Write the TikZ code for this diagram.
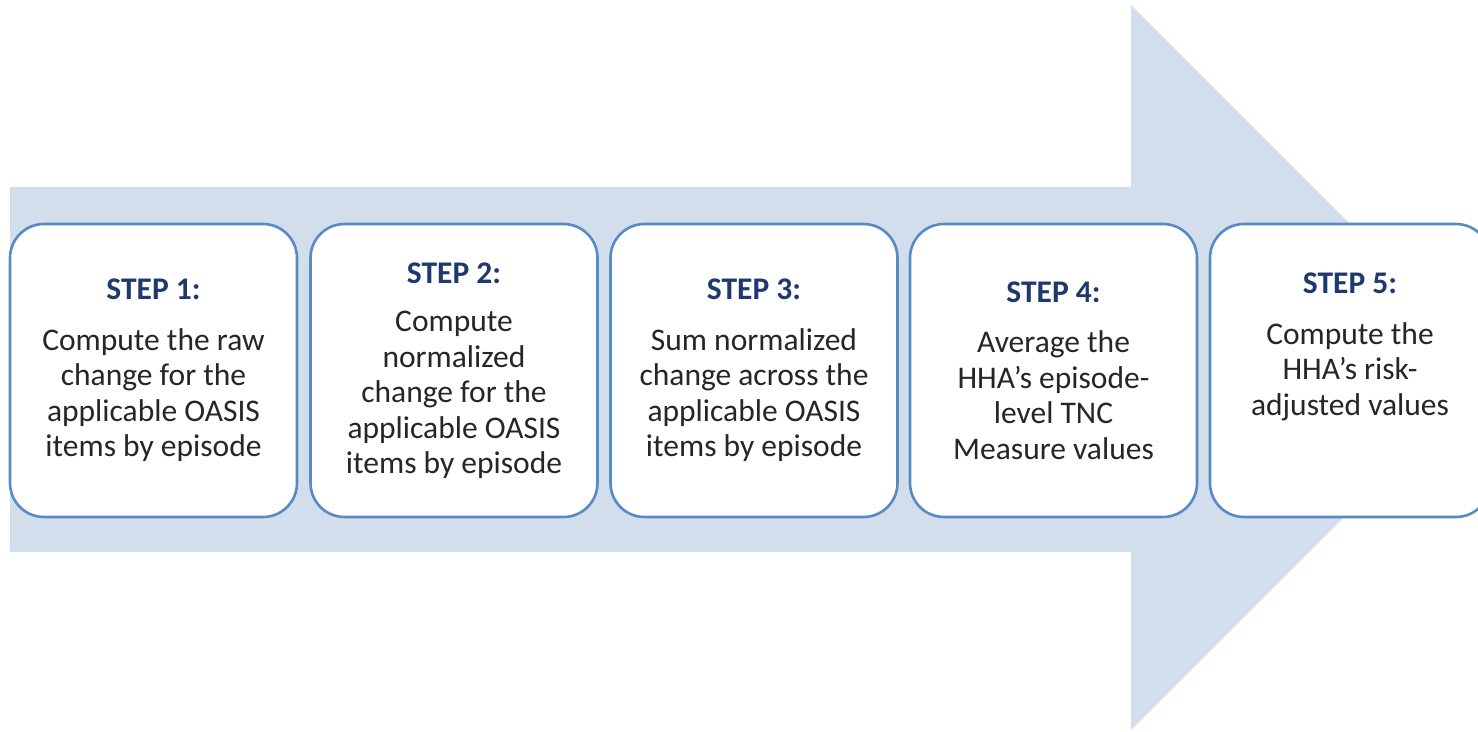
\documentclass[tikz,border=0pt]{standalone}
\usepackage{fontspec}
\setmainfont{Carlito}
\definecolor{arrowfill}{RGB}{211,222,237}
\definecolor{boxline}{RGB}{88,138,196}
\definecolor{headnavy}{RGB}{31,56,110}
\definecolor{bodytext}{RGB}{38,38,38}
\begin{document}
\begin{tikzpicture}[x=1pt,y=-1pt,
  stepbox/.style={draw=boxline, line width=2.6pt, fill=white, rounded corners=34pt,
    minimum width=287pt, minimum height=293pt, align=center, text=bodytext,
    font=\fontsize{31.5}{35.5}\selectfont, inner sep=0pt}]
\useasboundingbox (0,0) rectangle (1478,731);
\clip (0,0) rectangle (1478,731);
\fill[arrowfill] (10,187) -- (1131,187) -- (1131,5) -- (1493.5,367.5) -- (1131,730) -- (1131,552) -- (10,552) -- cycle;
\newcommand{\hd}[1]{{\color{headnavy}\bfseries #1}}
\node[stepbox] (s1) at (153.5,370.5) {\hd{STEP 1:}\\[15pt]Compute the raw\\change for the\\applicable OASIS\\items by episode};
\node[stepbox] (s2) at (454,370.5) {\hd{STEP 2:}\\[13pt]Compute\\normalized\\change for the\\applicable OASIS\\items by episode};
\node[stepbox] (s3) at (754,370.5) {\hd{STEP 3:}\\[15pt]Sum normalized\\change across the\\applicable OASIS\\items by episode};
\node[stepbox] (s4) at (1053.5,370.5) {\hd{STEP 4:}\\[15pt]Average the\\HHA’s episode-\\level TNC\\Measure values};
\node[stepbox, minimum width=280pt] (s5) at (1350,370.5) {\hd{STEP 5:}\\[15pt]Compute the\\HHA’s risk-\\adjusted values\\[17.5pt]\mbox{}};
\end{tikzpicture}
\end{document}
